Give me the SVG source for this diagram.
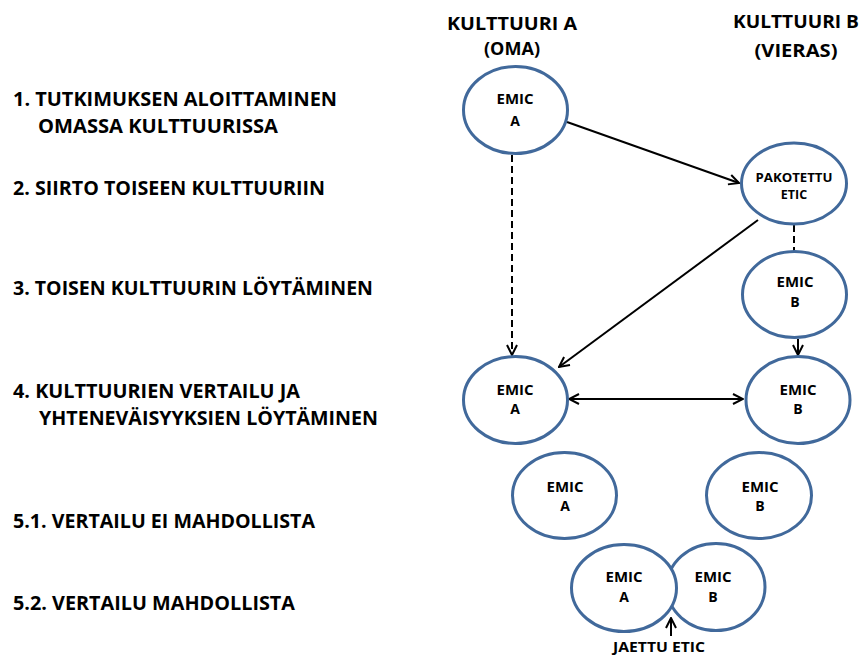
<svg xmlns="http://www.w3.org/2000/svg" width="861" height="658" viewBox="0 0 861 658">
<style>
.lbl{font-family:"Open Sans","Liberation Sans",sans-serif;font-weight:bold;font-size:19px;fill:#000}
.hdr{font-family:"Open Sans","Liberation Sans",sans-serif;font-weight:bold;font-size:18px;fill:#000;text-anchor:middle}
.nt{font-family:"Open Sans","Liberation Sans",sans-serif;font-weight:bold;font-size:14px;fill:#000;text-anchor:middle}
.nts{font-family:"Open Sans","Liberation Sans",sans-serif;font-weight:bold;font-size:12.5px;fill:#000;text-anchor:middle}
.el{fill:#fff;stroke:#41699b;stroke-width:3}
.cn{fill:none;stroke:#000;stroke-width:2}
.dash{stroke-dasharray:7,4}
</style>
<defs>
<marker id="ah" viewBox="0 0 12 12" refX="11" refY="6" markerWidth="12" markerHeight="12" markerUnits="userSpaceOnUse" orient="auto-start-reverse">
<path d="M1,1 L11,6 L1,11" fill="none" stroke="#000" stroke-width="2"/>
</marker>
</defs>

<g id="labels">
<text class="lbl" x="13" y="106" textLength="324" lengthAdjust="spacingAndGlyphs">1. TUTKIMUKSEN ALOITTAMINEN</text>
<text class="lbl" x="38" y="133" textLength="240" lengthAdjust="spacingAndGlyphs">OMASSA KULTTUURISSA</text>
<text class="lbl" x="13" y="195" textLength="312" lengthAdjust="spacingAndGlyphs">2. SIIRTO TOISEEN KULTTUURIIN</text>
<text class="lbl" x="13" y="295" textLength="360" lengthAdjust="spacingAndGlyphs">3. TOISEN KULTTUURIN LÖYTÄMINEN</text>
<text class="lbl" x="13" y="398" textLength="287" lengthAdjust="spacingAndGlyphs">4. KULTTUURIEN VERTAILU JA</text>
<text class="lbl" x="39" y="425" textLength="339" lengthAdjust="spacingAndGlyphs">YHTENEVÄISYYKSIEN LÖYTÄMINEN</text>
<text class="lbl" x="13" y="528" textLength="302" lengthAdjust="spacingAndGlyphs">5.1. VERTAILU EI MAHDOLLISTA</text>
<text class="lbl" x="13" y="610" textLength="282" lengthAdjust="spacingAndGlyphs">5.2. VERTAILU MAHDOLLISTA</text>
</g>

<g id="headers">
<text class="hdr" x="512" y="30" textLength="130" lengthAdjust="spacingAndGlyphs">KULTTUURI A</text>
<text class="hdr" x="512" y="55" textLength="56" lengthAdjust="spacingAndGlyphs">(OMA)</text>
<text class="hdr" x="796" y="28" textLength="126" lengthAdjust="spacingAndGlyphs">KULTTUURI B</text>
<text class="hdr" x="796" y="57" textLength="83" lengthAdjust="spacingAndGlyphs">(VIERAS)</text>
</g>

<g id="connectors">
<line class="cn" x1="567" y1="122" x2="739" y2="183" marker-end="url(#ah)"/>
<line class="cn dash" x1="512" y1="155" x2="512" y2="355" marker-end="url(#ah)"/>
<line class="cn dash" x1="794" y1="225" x2="794" y2="251"/>
<line class="cn" x1="758" y1="220" x2="559" y2="367" marker-end="url(#ah)"/>
<line class="cn" x1="798" y1="339" x2="798" y2="355" marker-end="url(#ah)"/>
<line class="cn" x1="569" y1="399" x2="743" y2="399" marker-start="url(#ah)" marker-end="url(#ah)"/>
<line class="cn" x1="671" y1="636" x2="671" y2="618" marker-end="url(#ah)"/>
</g>

<g id="emicA1">
<ellipse class="el" cx="515.5" cy="110" rx="52" ry="43.5"/>
<text class="nt" x="515" y="104" textLength="37" lengthAdjust="spacingAndGlyphs">EMIC</text>
<text class="nt" x="515" y="126">A</text>
</g>
<g id="pakotettu">
<ellipse class="el" cx="794" cy="183.5" rx="52.5" ry="40.5"/>
<text class="nts" x="794" y="182" textLength="77" lengthAdjust="spacingAndGlyphs">PAKOTETTU</text>
<text class="nts" x="794" y="199">ETIC</text>
</g>
<g id="emicB3">
<ellipse class="el" cx="794.5" cy="294.5" rx="52" ry="43"/>
<text class="nt" x="795" y="287" textLength="37" lengthAdjust="spacingAndGlyphs">EMIC</text>
<text class="nt" x="795" y="307">B</text>
</g>
<g id="emicA4">
<ellipse class="el" cx="515.5" cy="400" rx="52" ry="43.5"/>
<text class="nt" x="515" y="395" textLength="37" lengthAdjust="spacingAndGlyphs">EMIC</text>
<text class="nt" x="515" y="414">A</text>
</g>
<g id="emicB4">
<ellipse class="el" cx="798" cy="400" rx="52" ry="43.5"/>
<text class="nt" x="798" y="395" textLength="37" lengthAdjust="spacingAndGlyphs">EMIC</text>
<text class="nt" x="798" y="414">B</text>
</g>
<g id="emicA51">
<ellipse class="el" cx="564.5" cy="495.5" rx="52" ry="43"/>
<text class="nt" x="565" y="492" textLength="37" lengthAdjust="spacingAndGlyphs">EMIC</text>
<text class="nt" x="565" y="511">A</text>
</g>
<g id="emicB51">
<ellipse class="el" cx="759" cy="495.5" rx="52.5" ry="43"/>
<text class="nt" x="760" y="492" textLength="37" lengthAdjust="spacingAndGlyphs">EMIC</text>
<text class="nt" x="760" y="511">B</text>
</g>
<g id="emicB52">
<ellipse class="el" cx="716" cy="587" rx="49" ry="43.5"/>
<text class="nt" x="713" y="582" textLength="37" lengthAdjust="spacingAndGlyphs">EMIC</text>
<text class="nt" x="713" y="602">B</text>
</g>
<g id="emicA52">
<ellipse class="el" cx="624" cy="588" rx="52.5" ry="43.5"/>
<text class="nt" x="624" y="582" textLength="37" lengthAdjust="spacingAndGlyphs">EMIC</text>
<text class="nt" x="624" y="602">A</text>
</g>
<g id="jaettu">
<text class="nt" x="659" y="652" font-size="13" textLength="92" lengthAdjust="spacingAndGlyphs">JAETTU ETIC</text>
</g>
</svg>
